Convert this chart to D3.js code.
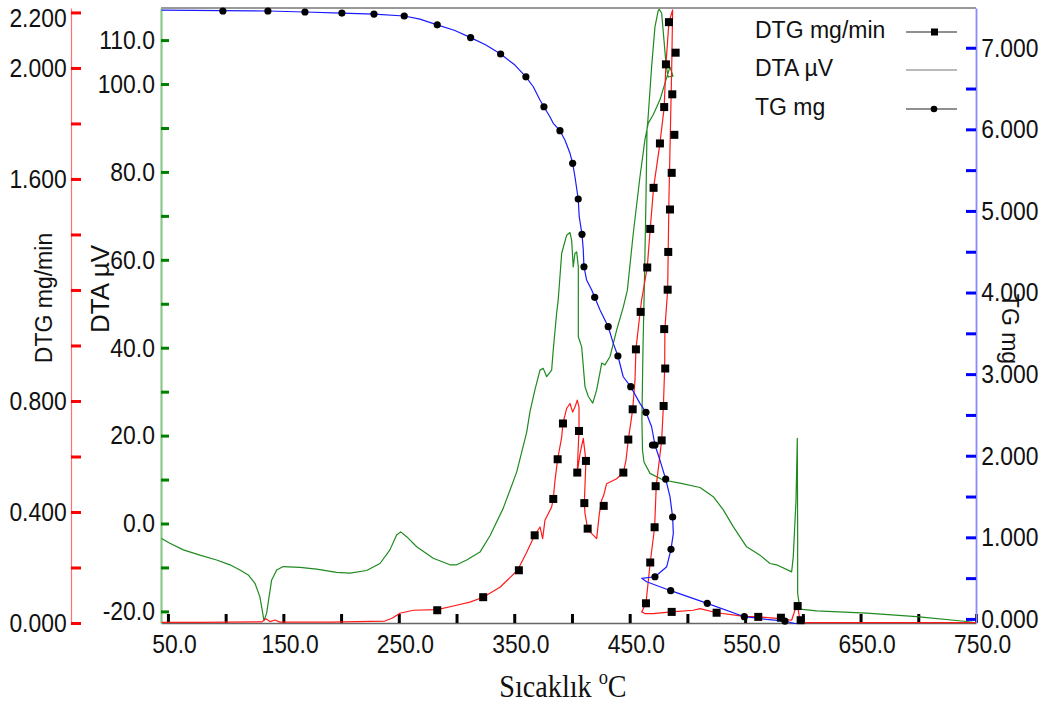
<!DOCTYPE html>
<html>
<head>
<meta charset="utf-8">
<script src="https://cdn.jsdelivr.net/npm/d3@7"></script>
<style>
  body { margin: 0; background: #ffffff; }
  svg { display: block; }
  .tick text { fill: #111; }
</style>
</head>
<body>
<svg id="chart" width="1048" height="709"></svg>
<script>
// ---- Data: [temperature °C, value] in acquisition order ----
// DTA trace (µV)
const dtaCurve = [
  [44.5,-3.4],[51.7,-4.5],[63.3,-6.0],[77.7,-7.2],[92.2,-8.3],[103.7,-9.4],[112.4,-10.6],[119.6,-11.7],
  [125.4,-13.6],[129.7,-16.7],[133.2,-22.1],[135.5,-20.4],[139.8,-12.9],[144.2,-10.6],[149.9,-9.8],
  [164.4,-10.0],[178.8,-10.4],[196.1,-11.1],[207.7,-11.3],[222.1,-10.7],[233.7,-9.1],[242.3,-6.0],
  [248.1,-2.6],[251.6,-1.9],[256.8,-3.0],[265.5,-5.3],[279.8,-7.9],[294.3,-9.4],[300.1,-9.4],
  [308.8,-8.3],[320.3,-6.5],[329.0,-2.8],[340.5,3.5],[352.1,11.7],[360.8,20.8],[363.6,25.4],
  [367.9,30.4],[372.3,34.9],[375.1,35.3],[378.1,33.4],[382.4,34.9],[383.8,39.5],[386.7,47.8],
  [388.1,50.9],[391.1,61.5],[395.4,65.6],[398.3,66.2],[399.7,64.5],[401.1,58.4],[402.6,61.5],
  [404.1,61.8],[405.5,58.4],[405.5,50.9],[405.5,42.5],[408.4,40.2],[411.3,31.1],[414.2,28.9],
  [418.0,27.4],[421.4,30.4],[425.8,36.5],[428.6,36.1],[433.0,38.0],[438.7,44.0],[444.5,49.3],
  [448.0,53.1],[453.1,66.0],[458.9,78.9],[463.2,87.3],[466.1,91.1],[470.4,93.0],[476.2,96.4],
  [480.6,100.2],[484.9,103.9],[487.5,101.8],[483.4,101.6],[481.7,103.9],[479.7,110.0],[477.7,116.1],
  [475.6,117.0],[474.8,116.8],[471.9,113.0],[469.0,103.9],[465.8,91.8],[465.0,89.5],[464.1,73.6],
  [462.8,55.4],[461.5,39.5],[460.6,23.6],[461.1,16.7],[462.4,14.0],[467.6,11.4],[479.1,9.9],
  [493.5,9.2],[510.9,8.2],[522.4,6.1],[531.1,3.1],[539.7,-0.7],[551.3,-5.3],[562.9,-7.2],
  [571.5,-9.1],[577.3,-9.4],[590.3,-11.0],[591.7,-7.6],[594.1,5.4],[595.2,19.4],[595.5,-2.2],
  [595.5,-15.9],[597.5,-19.5],[612.0,-19.9],[655.3,-20.4],[698.6,-21.2],[741.9,-22.3],[750,-22.6]
];

// DTG trace (mg/min)
const dtgCurve = [
  [44.5,0.002],[77.7,0.002],[131.4,0.004],[134.9,0.015],[138.4,0.005],[142.7,0.011],[147.0,0.003],
  [190.3,0.003],[237.9,0.007],[244.1,0.017],[251.0,0.035],[262.5,0.046],[283.3,0.048],[300.1,0.064],
  [311.6,0.075],[323.1,0.093],[337.6,0.129],[352.9,0.190],[360.8,0.255],[367.7,0.316],[372.3,0.346],
  [374.6,0.304],[376.6,0.370],[382.4,0.418],[383.8,0.447],[385.3,0.514],[387.6,0.590],[391.1,0.670],
  [392.2,0.719],[395.4,0.773],[398.3,0.791],[400.6,0.760],[402.6,0.778],[404.6,0.803],[406.1,0.778],
  [406.1,0.692],[405.2,0.610],[404.6,0.542],[407.0,0.610],[409.8,0.665],[412.1,0.584],[410.7,0.432],
  [411.3,0.394],[413.6,0.340],[417.1,0.322],[421.4,0.304],[423.7,0.394],[425.7,0.442],[427.5,0.460],
  [430.0,0.502],[438.7,0.520],[444.5,0.542],[446.8,0.586],[448.8,0.661],[450.9,0.719],[452.6,0.770],
  [454.6,0.875],[455.4,0.986],[458.9,1.115],[460.3,1.163],[465.2,1.281],[467.8,1.420],[470.7,1.568],
  [476.2,1.728],[479.9,1.859],[481.4,2.013],[484.0,2.165],[487.2,2.209],[486.4,2.000],[485.2,1.764],
  [484.0,1.524],[482.9,1.201],[480.5,1.059],[480.3,0.917],[479.2,0.782],[477.7,0.658],[473.0,0.493],
  [471.6,0.345],[467.8,0.218],[464.1,0.071],[460.4,0.040],[463.2,0.034],[470.4,0.034],[486.4,0.040],
  [505.1,0.046],[510.9,0.052],[525.3,0.037],[549.3,0.024],[561.4,0.022],[580.2,0.016],[590.3,0.010],
  [593.1,0.046],[595.5,0.061],[597.5,0.010],[598.1,0.001],[750,0.001]
];

// DTG marker samples
const dtgMarks = [
  [283.3,0.046],[323.1,0.093],[354.0,0.190],[367.7,0.316],[383.8,0.447],[387.6,0.590],[392.2,0.719],
  [406.1,0.692],[404.6,0.542],[412.1,0.584],[410.7,0.432],[413.6,0.340],[427.5,0.422],[444.5,0.542],
  [448.8,0.661],[452.6,0.770],[455.4,0.986],[459.5,1.121],[465.2,1.281],[467.8,1.420],[470.7,1.568],
  [476.2,1.728],[479.9,1.859],[481.4,2.013],[484.0,2.165],[489.8,2.055],[486.9,1.905],[488.7,1.759],
  [486.4,1.622],[484.9,1.490],[483.4,1.337],[482.9,1.201],[479.9,1.059],[480.8,0.917],[479.4,0.782],
  [477.7,0.658],[472.5,0.493],[471.6,0.345],[467.8,0.218],[464.1,0.071],[486.4,0.040],[525.3,0.037],
  [561.4,0.022],[581.0,0.019],[595.5,0.061],[598.1,0.010]
];

// TG trace (mg)
const tgCurve = [
  [44.5,7.462],[97.6,7.456],[136.6,7.450],[168.7,7.438],[200.7,7.425],[228.5,7.413],[254.7,7.389],
  [268.3,7.350],[283.3,7.281],[298.6,7.211],[312.2,7.124],[325.5,7.033],[338.2,6.923],[350.6,6.788],
  [360.1,6.643],[366.5,6.522],[372.3,6.359],[375.7,6.277],[380.9,6.154],[383.8,6.074],[389.6,5.983],
  [393.9,5.869],[398.3,5.706],[400.6,5.583],[402.6,5.419],[405.4,5.146],[406.3,4.929],[408.7,4.713],
  [409.8,4.521],[410.4,4.316],[412.7,4.153],[417.1,4.031],[419.7,3.941],[424.3,3.786],[431.4,3.581],
  [435.8,3.377],[439.8,3.222],[444.4,2.968],[450.9,2.846],[458.9,2.642],[464.1,2.532],[469.0,2.355],
  [471.9,2.131],[476.2,1.947],[481.2,1.714],[484.9,1.498],[487.2,1.249],[487.8,1.049],[485.8,0.853],
  [482.1,0.640],[471.9,0.517],[460.4,0.498],[464.7,0.456],[485.5,0.346],[517.2,0.191],[549.3,0.027],
  [568.7,-0.005],[584.5,-0.026],[594.7,-0.063]
];

// TG marker samples
const tgMarks = [
  [97.6,7.450],[136.6,7.450],[168.7,7.438],[200.7,7.425],[228.5,7.413],[254.7,7.389],[283.3,7.281],
  [312.2,7.124],[338.2,6.923],[360.1,6.643],[375.7,6.277],[389.6,5.983],[400.6,5.583],[405.4,5.146],
  [408.7,4.713],[410.4,4.316],[419.7,3.941],[431.4,3.581],[439.8,3.222],[450.9,2.846],[464.1,2.532],
  [469.7,2.131],[471.9,2.131],[481.2,1.714],[487.2,1.249],[485.8,0.853],[471.9,0.517],[485.5,0.346],
  [517.2,0.191],[549.3,0.027],[584.5,-0.026]
];

// ---- Axis ticks and labels ----
const xTicks = [50,100,150,200,250,300,350,400,450,500,550,600,650,700,750];
const xLabels = [50,150,250,350,450,550,650,750];
const dtgTicks = [0,0.2,0.4,0.6,0.8,1.0,1.2,1.4,1.6,1.8,2.0,2.2];
const dtgLabels = [0,0.4,0.8,1.6,2.0,2.2];
const dtaTicks = [-20,-10,0,10,20,30,40,50,60,70,80,90,100,110];
const dtaLabels = [-20,0,20,40,60,80,100,110];
const tgTicks = [0,0.5,1,1.5,2,2.5,3,3.5,4,4.5,5,5.5,6,6.5,7];
const tgLabels = [0,1,2,3,4,5,6,7];

const legendNames = ["DTG mg/min", "DTA \u00b5V", "TG mg"];

// ---- Layout ----
const plot = { left: 161, right: 976, top: 8, bottom: 623 };
const labelFont = "'Liberation Sans', Arial, sans-serif";
const squeeze = "scale(0.88,1)";

const svg = d3.select("#chart");
svg.append("rect").attr("width", 1048).attr("height", 709).attr("fill", "#ffffff");

const x = d3.scaleLinear().domain([44, 750]).range([plot.left, plot.right]);
const yDTG = d3.scaleLinear().domain([0, 2.216]).range([plot.bottom, plot.top]);
const yDTA = d3.scaleLinear().domain([-22.64, 117.3]).range([plot.bottom, plot.top]);
const yTG = d3.scaleLinear().domain([-0.05, 7.487]).range([plot.bottom, plot.top]);

svg.append("clipPath").attr("id", "plotClip")
  .append("rect")
  .attr("x", plot.left).attr("y", plot.top - 2)
  .attr("width", plot.right - plot.left).attr("height", plot.bottom - plot.top + 3);

// top frame line
svg.append("line")
  .attr("x1", plot.left).attr("x2", plot.right)
  .attr("y1", plot.top).attr("y2", plot.top)
  .attr("stroke", "#333").attr("stroke-width", 1);

function has(arr, v) { return arr.some(a => Math.abs(a - v) < 1e-9); }

// x axis
const gx = svg.append("g")
  .attr("transform", `translate(0,${plot.bottom})`)
  .call(d3.axisBottom(x).tickValues(xTicks).tickSizeInner(-9).tickSizeOuter(0).tickPadding(12)
    .tickFormat(d => has(xLabels, d) ? d.toFixed(1) : ""));
gx.select(".domain").attr("stroke", "#666").attr("stroke-width", 1.5);
gx.selectAll(".tick line").attr("stroke", "#000").attr("stroke-width", 3);
gx.selectAll(".tick text").attr("font-family", labelFont).attr("font-size", 26)
  .attr("x", 7).attr("transform", squeeze);

// DTG axis (left, red)
const gDTG = svg.append("g")
  .attr("transform", "translate(71,0)")
  .call(d3.axisLeft(yDTG).tickValues(dtgTicks).tickSizeInner(-10).tickSizeOuter(0).tickPadding(5)
    .tickFormat(d => has(dtgLabels, d) ? d.toFixed(3) : ""));
gDTG.select(".domain").attr("stroke", "#ff7070").attr("stroke-width", 1.2);
gDTG.selectAll(".tick line").attr("stroke", "#ff0000").attr("stroke-width", 3);
gDTG.selectAll(".tick text").attr("font-family", labelFont).attr("font-size", 26)
  .attr("transform", squeeze);
// keep the topmost label inside the page
gDTG.selectAll(".tick text").filter(d => Math.abs(d - 2.2) < 1e-9).attr("dy", "0.55em");

// DTA axis (green)
const gDTA = svg.append("g")
  .attr("transform", `translate(${plot.left},0)`)
  .call(d3.axisLeft(yDTA).tickValues(dtaTicks).tickSizeInner(-8).tickSizeOuter(0).tickPadding(7)
    .tickFormat(d => has(dtaLabels, d) ? d.toFixed(1) : ""));
gDTA.select(".domain").attr("stroke", "#8cc88c").attr("stroke-width", 2.2);
gDTA.selectAll(".tick line").attr("stroke", "#008000").attr("stroke-width", 3);
gDTA.selectAll(".tick text").attr("font-family", labelFont).attr("font-size", 26)
  .attr("transform", squeeze);

// TG axis (right, blue)
const gTG = svg.append("g")
  .attr("transform", `translate(${plot.right},0)`)
  .call(d3.axisRight(yTG).tickValues(tgTicks).tickSizeInner(-10).tickSizeOuter(0).tickPadding(6)
    .tickFormat(d => has(tgLabels, d) ? d.toFixed(3) : ""));
gTG.select(".domain").attr("stroke", "#8a8aff").attr("stroke-width", 1.8);
gTG.selectAll(".tick line").attr("stroke", "#0000ff").attr("stroke-width", 3);
gTG.selectAll(".tick text").attr("font-family", labelFont).attr("font-size", 26)
  .attr("transform", squeeze);

// ---- Traces ----
const traces = svg.append("g").attr("clip-path", "url(#plotClip)");

const lineDTA = d3.line().x(d => x(d[0])).y(d => yDTA(d[1]));
const lineDTG = d3.line().x(d => x(d[0])).y(d => yDTG(d[1]));
const lineTG = d3.line().x(d => x(d[0])).y(d => yTG(d[1]));

traces.append("path").datum(dtaCurve).attr("d", lineDTA)
  .attr("fill", "none").attr("stroke", "#1f8a1f").attr("stroke-width", 1.2).attr("stroke-linejoin", "round");
traces.append("path").datum(dtgCurve).attr("d", lineDTG)
  .attr("fill", "none").attr("stroke", "#ff1a1a").attr("stroke-width", 1.2).attr("stroke-linejoin", "round");
traces.append("path").datum(tgCurve).attr("d", lineTG)
  .attr("fill", "none").attr("stroke", "#1a1aff").attr("stroke-width", 1.2).attr("stroke-linejoin", "round");

const markSize = 8;
svg.append("g").selectAll("rect").data(dtgMarks).join("rect")
  .attr("x", d => x(d[0]) - markSize / 2).attr("y", d => yDTG(d[1]) - markSize / 2)
  .attr("width", markSize).attr("height", markSize).attr("fill", "#000");
svg.append("g").selectAll("circle").data(tgMarks).join("circle")
  .attr("cx", d => x(d[0])).attr("cy", d => yTG(d[1])).attr("r", 3.6).attr("fill", "#000");

// ---- Legend ----
const legendRows = [
  { name: legendNames[0], y: 32, marker: "square", stroke: "#222" },
  { name: legendNames[1], y: 70, marker: null, stroke: "#777" },
  { name: legendNames[2], y: 109, marker: "circle", stroke: "#222" }
];
const legend = svg.append("g");
legendRows.forEach(r => {
  legend.append("text").attr("x", 755).attr("y", r.y + 6)
    .attr("font-family", labelFont).attr("font-size", 23).attr("fill", "#111").text(r.name);
  legend.append("line").attr("x1", 906).attr("x2", 957).attr("y1", r.y).attr("y2", r.y)
    .attr("stroke", r.stroke).attr("stroke-width", 1.2);
  if (r.marker === "square") {
    legend.append("rect").attr("x", 931).attr("y", r.y - 3.5).attr("width", 7).attr("height", 7).attr("fill", "#000");
  } else if (r.marker === "circle") {
    legend.append("circle").attr("cx", 934).attr("cy", r.y).attr("r", 3.3).attr("fill", "#000");
  }
});

// ---- Axis titles ----
svg.append("text").attr("transform", "translate(52,298) rotate(-90)")
  .attr("text-anchor", "middle").attr("font-family", labelFont).attr("font-size", 23)
  .attr("fill", "#111").text("DTG mg/min");
svg.append("text").attr("transform", "translate(109,289) rotate(-90)")
  .attr("text-anchor", "middle").attr("font-family", labelFont).attr("font-size", 26)
  .attr("fill", "#111").text("DTA \u00b5V");
svg.append("text").attr("transform", "translate(1002,329) rotate(90)")
  .attr("text-anchor", "middle").attr("font-family", labelFont).attr("font-size", 23)
  .attr("fill", "#111").text("TG mg");

const xt = svg.append("text").attr("transform", "translate(563,697) scale(0.88,1)")
  .attr("text-anchor", "middle").attr("font-family", "'Liberation Serif', 'Times New Roman', serif")
  .attr("font-size", 32).attr("fill", "#111");
xt.append("tspan").text("S\u0131cakl\u0131k ");
xt.append("tspan").attr("dy", -13).attr("font-size", 21).text("o");
xt.append("tspan").attr("dy", 13).text("C");
</script>
</body>
</html>
